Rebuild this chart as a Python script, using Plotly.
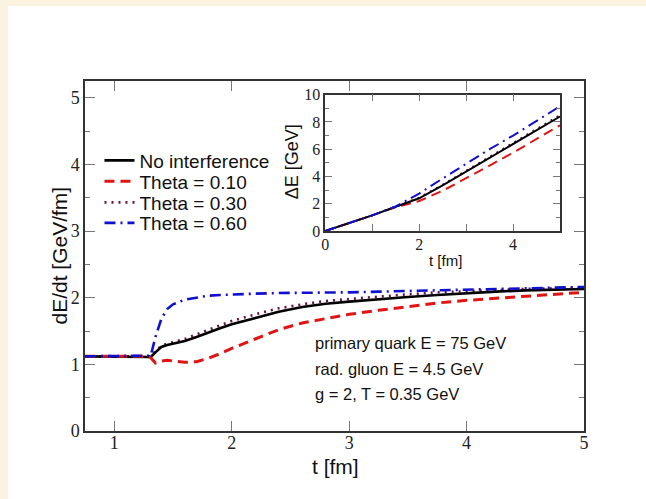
import plotly.graph_objects as go

# ---------------- data ----------------
t_main = [0.75, 1.0, 1.2, 1.28, 1.31, 1.35, 1.40, 1.45, 1.5, 1.6, 1.7, 1.8, 1.9, 2.0,
          2.2, 2.4, 2.6, 2.8, 3.0, 3.25, 3.5, 3.75, 4.0, 4.25, 4.5, 4.75, 5.0]
rate_noint = [1.12, 1.12, 1.12, 1.12, 1.11, 1.18, 1.26, 1.29, 1.31, 1.35, 1.41, 1.48, 1.54, 1.60,
              1.70, 1.79, 1.86, 1.91, 1.94, 1.98, 2.01, 2.04, 2.07, 2.09, 2.11, 2.12, 2.13]
rate_th010 = [1.12, 1.12, 1.12, 1.12, 1.10, 1.02, 1.05, 1.06, 1.05, 1.03, 1.04, 1.09, 1.16, 1.24,
              1.38, 1.52, 1.62, 1.69, 1.75, 1.81, 1.87, 1.92, 1.96, 1.99, 2.02, 2.05, 2.08]
rate_th030 = [1.12, 1.12, 1.12, 1.12, 1.12, 1.20, 1.28, 1.31, 1.33, 1.38, 1.45, 1.52, 1.59, 1.65,
              1.75, 1.84, 1.90, 1.95, 1.98, 2.02, 2.05, 2.08, 2.10, 2.12, 2.13, 2.14, 2.15]
rate_th060 = [1.12, 1.12, 1.12, 1.12, 1.13, 1.41, 1.68, 1.83, 1.90, 1.97, 2.00, 2.03, 2.04, 2.05,
              2.06, 2.07, 2.07, 2.08, 2.08, 2.09, 2.10, 2.11, 2.12, 2.13, 2.14, 2.15, 2.16]

t_inset = [0, 0.5, 1.0, 1.5, 2.0, 2.5, 3.0, 3.5, 4.0, 4.5, 5.0]
dE_noint = [0, 0.55, 1.15, 1.78, 2.40, 3.35, 4.35, 5.35, 6.35, 7.35, 8.40]
dE_th010 = [0, 0.55, 1.15, 1.75, 2.20, 2.95, 3.85, 4.80, 5.75, 6.75, 7.75]
dE_th030 = [0, 0.55, 1.15, 1.79, 2.44, 3.40, 4.42, 5.43, 6.44, 7.45, 8.50]
dE_th060 = [0, 0.55, 1.15, 1.80, 2.75, 3.85, 4.95, 6.00, 7.00, 8.05, 9.15]

series_names = ["No interference", "Theta = 0.10", "Theta = 0.30", "Theta = 0.60"]

main_xticks = [1, 2, 3, 4, 5]
main_yticks = [0, 1, 2, 3, 4, 5]
inset_xticks = [0, 2, 4]
inset_yticks = [0, 2, 4, 6, 8, 10]

info_lines = ["primary quark E = 75 GeV", "rad. gluon E = 4.5 GeV", "g = 2, T = 0.35 GeV"]

# ---------------- styles ----------------
styles = [
    dict(color="#000000", dash="solid", width=2.6),
    dict(color="#e01414", dash="10px,6px", width=3),
    dict(color="#6b1040", dash="2px,5px", width=2.6),
    dict(color="#1010d0", dash="11px,5px,2px,5px", width=2.6),
]

serif = "Liberation Serif"
sans = "Liberation Sans"
axcol = "#333333"
tickcol = "#777777"

# page geometry (figure sits at page offset OX, OY)
OX, OY = 8, 6
FW, FH = 646 - OX, 499 - OY
L, R, T, B = 76.5, 62, 75, 68
PW = FW - L - R
PH = FH - T - B


def px(xp):
    return (xp - OX - L) / PW


def py(yp):
    return (OY + FH - B - yp) / PH


fig = go.Figure()

main_series = [rate_noint, rate_th010, rate_th030, rate_th060]
legend_ids = ["legend", "legend2", "legend3", "legend4"]
for i in [2, 0, 1, 3]:
    st = styles[i]
    fig.add_trace(go.Scatter(
        x=t_main, y=main_series[i], mode="lines", name=series_names[i],
        line=dict(color=st["color"], dash=st["dash"], width=st["width"]),
        legend=legend_ids[i], xaxis="x", yaxis="y",
    ))

inset_series = [dE_noint, dE_th010, dE_th030, dE_th060]
for i in [2, 1, 0, 3]:
    st = styles[i]
    fig.add_trace(go.Scatter(
        x=t_inset, y=inset_series[i], mode="lines", showlegend=False,
        line=dict(color=st["color"], dash=st["dash"], width=2.0),
        xaxis="x2", yaxis="y2",
    ))

common = dict(showline=True, linecolor=axcol, linewidth=1.5, mirror="ticks",
              ticks="inside", tickcolor=tickcol, showgrid=False, zeroline=False)

legend_centers = [160, 181, 202, 222.5]
legend_font = dict(family=sans, size=19, color="#111")
legends = {}
for lid, yc in zip(legend_ids, legend_centers):
    legends[lid] = dict(x=px(99), y=py(yc - 18.5), xanchor="left", yanchor="top",
                        bgcolor="rgba(0,0,0,0)", font=legend_font, itemwidth=30)

fig.update_layout(
    width=FW, height=FH,
    margin=dict(l=L, r=R, t=T, b=B, pad=0),
    paper_bgcolor="white", plot_bgcolor="white",
    showlegend=True,
    xaxis=dict(range=[0.75, 5], domain=[0, 1], tickvals=main_xticks, ticklen=10,
               tickwidth=1.3, tickfont=dict(family=serif, size=18, color="#222"),
               ticklabelstandoff=-5, anchor="y", **common),
    yaxis=dict(range=[0, 5.25], domain=[0, 1], tickvals=main_yticks, ticklen=10,
               tickwidth=1.3, minor=dict(dtick=0.5, ticks="inside", ticklen=5, tickcolor=tickcol),
               tickfont=dict(family=serif, size=18, color="#222"), anchor="x", **common),
    xaxis2=dict(range=[0, 5], domain=[px(325), px(560)], tickvals=inset_xticks, ticklen=7,
                minor=dict(dtick=1, ticks="inside", ticklen=7, tickcolor=tickcol),
                tickfont=dict(family=serif, size=16, color="#222"), ticklabelstandoff=-2,
                anchor="y2", **common),
    yaxis2=dict(range=[0, 10], domain=[py(231), py(94.7)], tickvals=inset_yticks, ticklen=7,
                minor=dict(dtick=1, ticks="inside", ticklen=4, tickcolor=tickcol),
                tickfont=dict(family=serif, size=16, color="#222"), anchor="x2", **common),
    **legends,
)

# axis titles
fig.add_annotation(text="dE/dt [GeV/fm]", xref="paper", yref="paper", x=px(58), y=0.5,
                   textangle=-90, showarrow=False, xanchor="center", yanchor="middle",
                   font=dict(family=sans, size=21, color="#111"))
fig.add_annotation(text="t [fm]", xref="paper", yref="paper", x=px(335), y=py(467),
                   showarrow=False, xanchor="center", yanchor="middle",
                   font=dict(family=sans, size=21, color="#111"))
fig.add_annotation(text="ΔE [GeV]", xref="paper", yref="paper", x=px(292), y=py(162),
                   textangle=-90, showarrow=False, xanchor="center", yanchor="middle",
                   font=dict(family=sans, size=18, color="#111"))
fig.add_annotation(text="t [fm]", xref="paper", yref="paper", x=px(445), y=py(261),
                   showarrow=False, xanchor="center", yanchor="middle",
                   font=dict(family=sans, size=15, color="#111"))

for k, line in enumerate(info_lines):
    fig.add_annotation(text=line, xref="paper", yref="paper", x=px(313), y=py(343 + 25.5 * k),
                       showarrow=False, xanchor="left", yanchor="middle",
                       font=dict(family=sans, size=16.5, color="#111"))

fig.write_html(
    "out.html",
    post_script="document.body.style.margin='6px 0 0 8px';"
                "document.body.style.background='#fcf2e0';",
)
